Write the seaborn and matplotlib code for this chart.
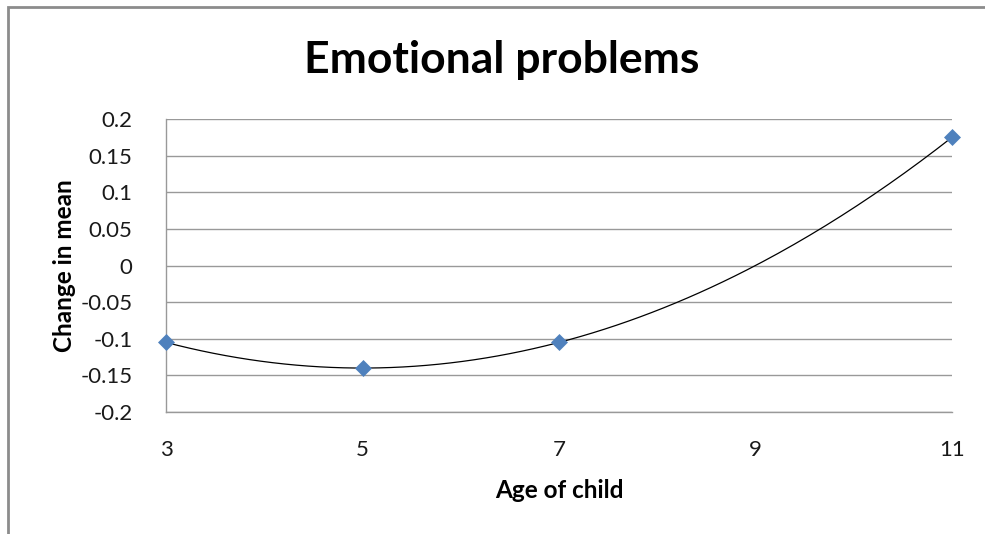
import numpy as np
import pandas as pd
import matplotlib
matplotlib.use("Agg")
import matplotlib.pyplot as plt
from matplotlib.patches import Rectangle
import seaborn as sns

# Data: change in mean emotional-problems score by age of child
ages = [3, 5, 7, 11]
change = [-0.105, -0.14, -0.105, 0.175]
x_ticks = [3, 5, 7, 9, 11]
y_ticks = [-0.2, -0.15, -0.1, -0.05, 0, 0.05, 0.1, 0.15, 0.2]
y_labels = ["-0.2", "-0.15", "-0.1", "-0.05", "0", "0.05", "0.1", "0.15", "0.2"]

sns.set_theme(style="white")
plt.rcParams["font.family"] = ["Lato", "DejaVu Sans"]

W, H = 985, 534
fig = plt.figure(figsize=(W / 100, H / 100), dpi=100)
ax = fig.add_axes([166 / W, 1 - 412 / H, (952 - 166) / W, (412 - 119) / H])

df = pd.DataFrame({"age": ages, "change": change})

# Smooth quadratic curve through the points
coef = np.polyfit(ages, change, 2)
xs = np.linspace(min(ages), max(ages), 200)
curve = pd.DataFrame({"age": xs, "change": np.polyval(coef, xs)})
sns.lineplot(data=curve, x="age", y="change", ax=ax, color="black",
             linewidth=0.9, zorder=3)
sns.scatterplot(data=df, x="age", y="change", ax=ax, marker="D", s=75,
                color="#4F81BD", edgecolor="#4F81BD", linewidth=0, zorder=4,
                clip_on=False)

ax.set_xlim(3, 11)
ax.set_ylim(-0.2, 0.2)
ax.set_xticks(x_ticks)
ax.set_xticklabels([str(t) for t in x_ticks], fontsize=16, color="#1a1a1a")
ax.set_yticks(y_ticks)
ax.set_yticklabels(y_labels, fontsize=16, color="#1a1a1a")
ax.tick_params(axis="x", pad=20, length=0)
ax.tick_params(axis="y", pad=24, length=0)

ax.grid(axis="y", color="#999999", linewidth=1)
ax.set_axisbelow(True)
for side in ["top", "right"]:
    ax.spines[side].set_visible(False)
for side in ["left", "bottom"]:
    ax.spines[side].set_color("#999999")
    ax.spines[side].set_linewidth(1)

ax.set_xlabel("Age of child", fontsize=17.5, fontweight="bold", labelpad=14,
              color="black")
ax.set_ylabel("Change in mean", fontsize=17.5, fontweight="bold", labelpad=3,
              color="black")

# Chart title, centred on the whole chart area
fig.text(502 / W, 1 - 60 / H, "Emotional problems", fontsize=32,
         fontweight="bold", ha="center", va="center", color="black")

# Outer chart frame
fig.patches.append(Rectangle((8 / W, -0.1), 1.2, 1 - 7 / H + 0.1,
                             transform=fig.transFigure, fill=False,
                             edgecolor="#8c8c8c", linewidth=2))

fig.savefig("out.png", dpi=100, facecolor="white")
